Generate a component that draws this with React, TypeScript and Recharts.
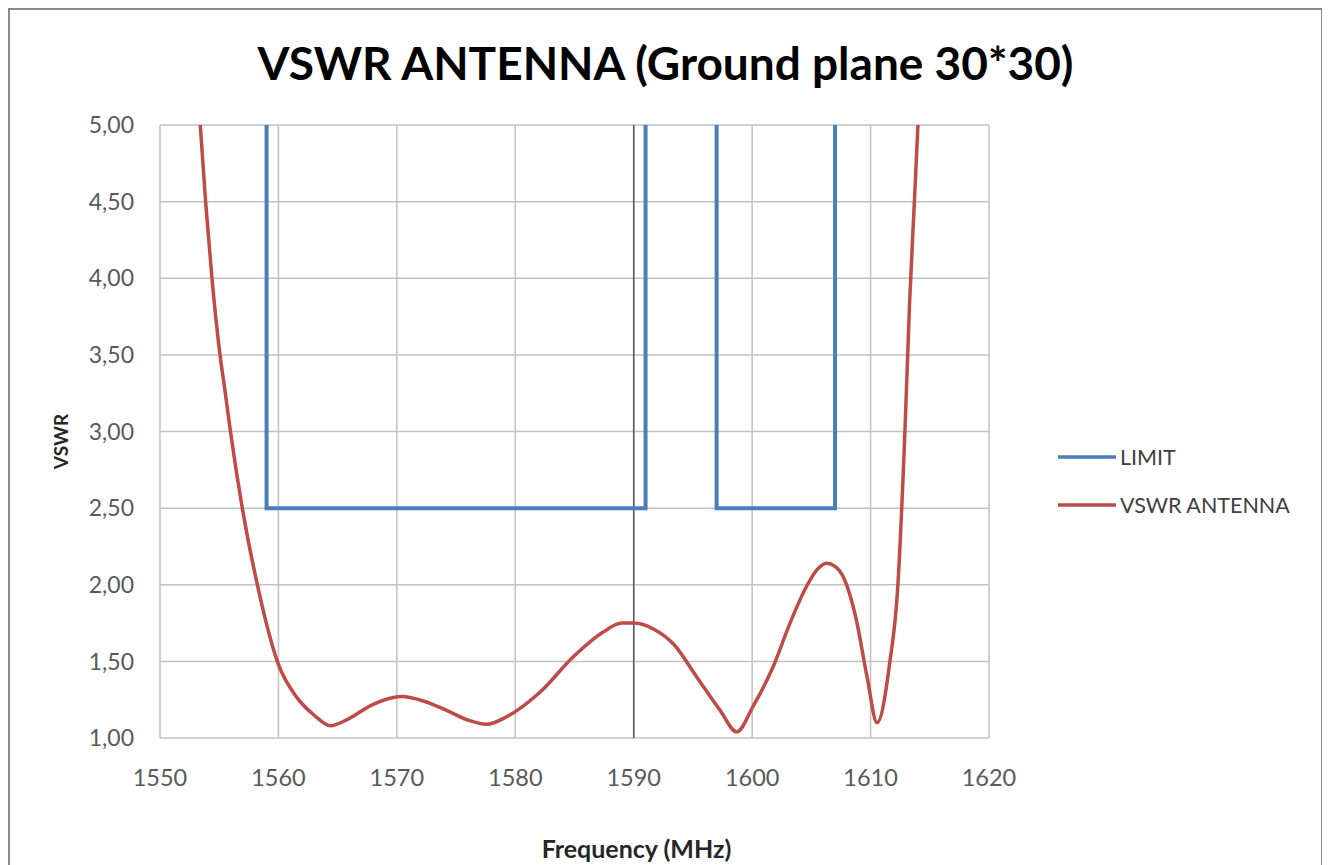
import React from "react"
import {
  LineChart,
  Line,
  XAxis,
  YAxis,
  CartesianGrid,
  Legend,
  ReferenceLine,
  Label,
} from "recharts"

// frequency (MHz) / VSWR
const antennaFreq = [
  1553.4, 1553.85, 1554.4, 1555.1, 1555.5, 1555.95, 1556.95, 1558.25, 1560.0, 1561.6,
  1563.0, 1564.4, 1565.8, 1568.0, 1570.4, 1572.3, 1574.2, 1575.9, 1577.6, 1579.3,
  1582.1, 1584.9, 1587.4, 1589.0, 1590.0, 1591.7, 1593.4, 1595.3, 1597.3, 1598.7,
  1600.1, 1601.8, 1603.2, 1604.6, 1605.5, 1606.3, 1607.0, 1607.7, 1608.8, 1609.7,
  1610.55, 1611.6, 1612.3, 1612.9, 1613.3, 1613.7, 1614.0,
]
const antennaVswr = [
  5.0, 4.5, 3.99, 3.48, 3.26, 3.0, 2.5, 1.99, 1.48, 1.26,
  1.15, 1.08, 1.12, 1.22, 1.27, 1.24, 1.18, 1.12, 1.09, 1.14,
  1.3, 1.53, 1.69, 1.75, 1.75, 1.71, 1.61, 1.4, 1.18, 1.04,
  1.21, 1.47, 1.75, 1.99, 2.1, 2.14, 2.12, 2.05, 1.77, 1.4,
  1.1, 1.48, 1.99, 3.0, 3.85, 4.5, 5.0,
]

// limit mask, null breaks the line between the two bands
const limitFreq = [1559, 1559, 1591, 1591, 1594, 1597, 1597, 1607, 1607]
const limitVswr = [5, 2.5, 2.5, 5, null, 5, 2.5, 2.5, 5]

const xTicks = [1550, 1560, 1570, 1580, 1590, 1600, 1610, 1620]
const yTicks = [1, 1.5, 2, 2.5, 3, 3.5, 4, 4.5, 5]

const antennaData = antennaFreq.map((f, i) => ({ f, v: antennaVswr[i] }))
const limitData = limitFreq.map((f, i) => ({ f, v: limitVswr[i] }))

const FONT = "Lato, 'Open Sans', sans-serif"

function LegendBox({ payload }: any) {
  return (
    <div style={{ fontFamily: FONT, fontSize: 21.5, color: "#404040" }}>
      {(payload || []).map((p: any) => (
        <div key={p.value} style={{ display: "flex", alignItems: "center", height: 48 }}>
          <svg width={58} height={6} style={{ marginRight: 4 }}>
            <line x1={0} y1={3} x2={58} y2={3} stroke={p.color} strokeWidth={3.5} />
          </svg>
          <span>{p.value}</span>
        </div>
      ))}
    </div>
  )
}

export default function App() {
  return (
    <div
      style={{
        position: "relative",
        width: 1315,
        height: 872,
        border: "2px solid #8a8a8a",
        boxSizing: "border-box",
        background: "white",
      }}
    >
      <div
        style={{
          position: "absolute",
          top: 25,
          left: 0,
          width: 1311,
          textAlign: "center",
          fontFamily: FONT,
          fontWeight: 700,
          fontSize: 46,
          lineHeight: 1.2,
          color: "#000",
        }}
      >
        VSWR ANTENNA (Ground plane 30*30)
      </div>
      <LineChart
        width={1311}
        height={866}
        margin={{ top: 115, left: 80, right: 332, bottom: 18 }}
        style={{ position: "absolute", top: 0, left: 0, fontFamily: FONT }}
      >
        <CartesianGrid stroke="#c2c2c2" strokeWidth={1.5} />
        <XAxis
          type="number"
          dataKey="f"
          domain={[1550, 1620]}
          ticks={xTicks}
          allowDataOverflow
          height={120}
          axisLine={false}
          tickLine={false}
          tickSize={0}
          tickMargin={31}
          tick={{ fill: "#595959", fontSize: 23.5 }}
        >
          <Label
            content={({ viewBox }: any) => (
              <text
                x={viewBox.x + viewBox.width / 2 + 62}
                y={viewBox.y + 120}
                textAnchor="middle"
                fontFamily={FONT}
                fontWeight={700}
                fontSize={25}
                fill="#262626"
              >
                Frequency (MHz)
              </text>
            )}
          />
        </XAxis>
        <YAxis
          type="number"
          dataKey="v"
          domain={[1, 5]}
          ticks={yTicks}
          allowDataOverflow
          width={70}
          axisLine={false}
          tickLine={false}
          tickSize={0}
          tickMargin={26}
          tick={{ fill: "#595959", fontSize: 23 }}
          tickFormatter={(v: number) => v.toFixed(2).replace(".", ",")}
        >
          <Label
            content={({ viewBox }: any) => {
              const cx = viewBox.x - 30
              const cy = viewBox.y + viewBox.height / 2 + 10
              return (
                <text
                  x={cx}
                  y={cy}
                  transform={`rotate(-90, ${cx}, ${cy})`}
                  textAnchor="middle"
                  dominantBaseline="central"
                  fontFamily={FONT}
                  fontWeight={700}
                  fontSize={19}
                  fill="#262626"
                >
                  VSWR
                </text>
              )
            }}
          />
        </YAxis>
        <ReferenceLine x={1590} stroke="#555555" strokeWidth={1.5} />
        <Legend
          layout="horizontal"
          verticalAlign="middle"
          align="center"
          content={<LegendBox />}
          wrapperStyle={{ position: "absolute", top: 423, left: 1048, width: 260 }}
        />
        <Line
          data={limitData}
          dataKey="v"
          name="LIMIT"
          type="linear"
          stroke="#4a7ebb"
          strokeWidth={4}
          dot={false}
          activeDot={false}
          connectNulls={false}
          isAnimationActive={false}
        />
        <Line
          data={antennaData}
          dataKey="v"
          name="VSWR ANTENNA"
          type="monotone"
          stroke="#be4b48"
          strokeWidth={3.5}
          dot={false}
          activeDot={false}
          isAnimationActive={false}
        />
      </LineChart>
    </div>
  )
}
